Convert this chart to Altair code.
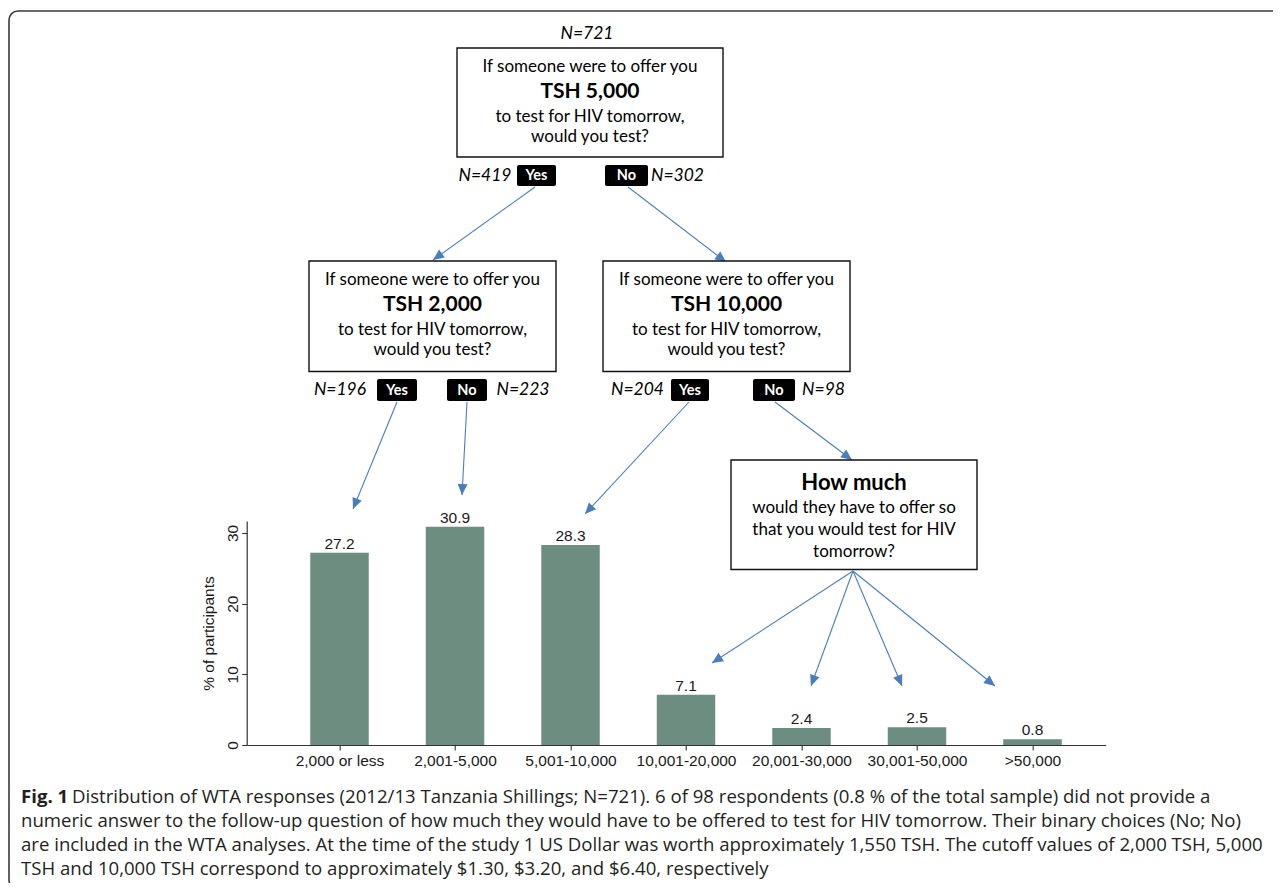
import json
import math
import altair as alt
import pandas as pd

# ---------------- data ----------------
categories = ["2,000 or less", "2,001-5,000", "5,001-10,000", "10,001-20,000",
              "20,001-30,000", "30,001-50,000", ">50,000"]
pct = [27.2, 30.9, 28.3, 7.1, 2.4, 2.5, 0.8]

# decision-tree texts
n_labels = ["N=721", "N=419", "N=302", "N=196", "N=223", "N=204", "N=98"]
chip_labels = ["Yes", "No", "Yes", "No", "Yes", "No"]
q_amounts = ["TSH 5,000", "TSH 2,000", "TSH 10,000"]
q_line1 = "If someone were to offer you"
q_line3 = "to test for HIV tomorrow,"
q_line4 = "would you test?"
hm_lines = ["How much", "would they have to offer so", "that you would test for HIV", "tomorrow?"]

caption_bold = "Fig. 1"
caption_lines = [
    "Distribution of WTA responses (2012/13 Tanzania Shillings; N=721). 6 of 98 respondents (0.8 % of the total sample) did not provide a",
    "numeric answer to the follow-up question of how much they would have to be offered to test for HIV tomorrow. Their binary choices (No; No)",
    "are included in the WTA analyses. At the time of the study 1 US Dollar was worth approximately 1,550 TSH. The cutoff values of 2,000 TSH, 5,000",
    "TSH and 10,000 TSH correspond to approximately $1.30, $3.20, and $6.40, respectively",
]

# ---------------- layout (page pixels -> data units) ----------------
X0, STEP = 339.5, 115.5
Y0, PPU = 745.0, 7.067
def X(px):
    return (px - X0) / STEP
def Y(py):
    return (Y0 - py) / PPU

PLOT_L, PLOT_R, PLOT_T, PLOT_B = 246.7, 1105.7, 521.0, 745.0
W = PLOT_R - PLOT_L
H = PLOT_B - PLOT_T
xscale = alt.Scale(domain=[X(PLOT_L), X(PLOT_R)], nice=False, zero=False)
yscale = alt.Scale(domain=[0, Y(PLOT_T)], nice=False, zero=False)

TREE_FONT = "Lato"
CAP_FONT = "Open Sans"
CHART_FONT = "Liberation Sans"
ARROW = "#4A7EBB"
BAR = "#6D8D81"
label_expr = json.dumps(categories) + "[datum.value]"

xaxis = alt.Axis(
    values=list(range(len(categories))), labelExpr=label_expr, title=None, grid=False,
    tickSize=5, labelPadding=3, labelFont=CHART_FONT, labelFontSize=15.5,
    labelColor="#1a1a1a", domainColor="#333333", tickColor="#333333",
    domainWidth=1.2, tickWidth=1.1, labelOverlap=False, labelFlush=False)
yaxis = alt.Axis(
    values=[0, 10, 20, 30], grid=False, tickSize=5, labelAngle=270,
    labelAlign="center", labelBaseline="alphabetic", labelPadding=4,
    labelFont=CHART_FONT, labelFontSize=15.5, labelColor="#1a1a1a",
    domainColor="#333333", tickColor="#333333", domainWidth=1.2, tickWidth=1.1,
    title="% of participants", titleFont=CHART_FONT, titleFontSize=15.5,
    titleFontWeight="normal", titleColor="#1a1a1a", titleAngle=270,
    titleAlign="center", titleBaseline="alphabetic", titleX=-33, titleY=H / 2)

def XE(f="x"):
    return alt.X(f"{f}:Q", scale=xscale, axis=xaxis)
def YE(f="y"):
    return alt.Y(f"{f}:Q", scale=yscale, axis=yaxis)

# ---------------- bars ----------------
bars_df = pd.DataFrame({"idx": list(range(len(categories))), "cat": categories, "pct": pct})
half = 0.2532

bars = alt.Chart(bars_df).transform_calculate(
    x0=f"datum.idx - {half}", x1=f"datum.idx + {half}"
).mark_bar(color=BAR).encode(
    x=XE("x0"), x2="x1:Q", y=YE("pct"), y2=alt.datum(0),
)

values = alt.Chart(bars_df).mark_text(
    baseline="alphabetic", dy=-4, font=CHART_FONT, fontSize=15.5, color="#1a1a1a"
).encode(
    x=XE("idx"), y=YE("pct"),
    text=alt.Text("pct:Q", format=".1f"),
)

# ---------------- frame ----------------
frame_df = pd.DataFrame({"x": [X(9)], "x2": [X(1300)], "y": [Y(11)], "y2": [Y(889)]})
frame = alt.Chart(frame_df).mark_rect(
    fill="transparent", stroke="#3a3a3a", strokeWidth=1.6, cornerRadius=9
).encode(x=XE(), x2="x2:Q", y=YE(), y2="y2:Q")

# ---------------- question boxes ----------------
box_px = [(457, 48, 723, 157), (309, 261, 556, 371.5), (603, 261, 850, 371.5), (731, 460, 977, 569.5)]
boxes_df = pd.DataFrame({
    "x": [X(b[0]) for b in box_px], "x2": [X(b[2]) for b in box_px],
    "y": [Y(b[1]) for b in box_px], "y2": [Y(b[3]) for b in box_px],
})
boxes = alt.Chart(boxes_df).mark_rect(
    fill="white", stroke="#111111", strokeWidth=1.4
).encode(x=XE(), x2="x2:Q", y=YE(), y2="y2:Q")

normal_rows, bold_rows = [], []
offs = [19, 44, 69, 89]
for i, amount in enumerate(q_amounts):
    l, t, r, b = box_px[i]
    cx = (l + r) / 2
    normal_rows.append((X(cx), Y(t + offs[0]), q_line1))
    bold_rows.append((X(cx), Y(t + offs[1]), amount))
    normal_rows.append((X(cx), Y(t + offs[2]), q_line3))
    normal_rows.append((X(cx), Y(t + offs[3]), q_line4))
l, t, r, b = box_px[3]
cx = (l + r) / 2
bold_rows.append((X(cx), Y(482.5), hm_lines[0]))
normal_rows.append((X(cx), Y(508), hm_lines[1]))
normal_rows.append((X(cx), Y(530), hm_lines[2]))
normal_rows.append((X(cx), Y(552), hm_lines[3]))

normal_df = pd.DataFrame(normal_rows, columns=["x", "y", "t"])
bold_df = pd.DataFrame(bold_rows[:3], columns=["x", "y", "t"])
hm_df = pd.DataFrame(bold_rows[3:], columns=["x", "y", "t"])

normal_txt = alt.Chart(normal_df).mark_text(
    font=TREE_FONT, fontSize=17, color="black", baseline="middle", align="center"
).encode(x=XE(), y=YE(), text="t:N")
bold_txt = alt.Chart(bold_df).mark_text(
    font=TREE_FONT, fontSize=21, fontWeight="bold", color="black", baseline="middle", align="center"
).encode(x=XE(), y=YE(), text="t:N")
hm_txt = alt.Chart(hm_df).mark_text(
    font=TREE_FONT, fontSize=22, fontWeight="bold", color="black", baseline="middle", align="center"
).encode(x=XE(), y=YE(), text="t:N")

# ---------------- N labels ----------------
n_px = [(587, 34), (485, 176), (677.5, 176), (340, 390), (523, 390), (637.5, 390), (823.5, 390)]
n_df = pd.DataFrame({"x": [X(p[0]) for p in n_px], "y": [Y(p[1]) for p in n_px], "t": n_labels})
n_txt = alt.Chart(n_df).mark_text(
    font=TREE_FONT, fontSize=17.5, fontStyle="italic", color="black", baseline="middle", align="center"
).encode(x=XE(), y=YE(), text="t:N")

# ---------------- Yes / No chips ----------------
chip_px = [(517, 165, 556, 186), (605, 165, 648, 186), (377, 379, 417, 401),
           (447, 379, 487, 401), (671, 379, 709, 401), (753, 379, 795, 401)]
chip_df = pd.DataFrame({
    "x": [X(c[0]) for c in chip_px], "x2": [X(c[2]) for c in chip_px],
    "y": [Y(c[1]) for c in chip_px], "y2": [Y(c[3]) for c in chip_px],
    "cx": [X((c[0] + c[2]) / 2) for c in chip_px], "cy": [Y((c[1] + c[3]) / 2 + 0.5) for c in chip_px],
    "t": chip_labels,
})
chips = alt.Chart(chip_df).mark_rect(fill="black", cornerRadius=2).encode(
    x=XE(), x2="x2:Q", y=YE(), y2="y2:Q")
chip_txt = alt.Chart(chip_df).mark_text(
    font=TREE_FONT, fontSize=14.5, fontWeight="bold", color="white", baseline="middle", align="center"
).encode(x=XE("cx"), y=YE("cy"), text="t:N")

# ---------------- arrows ----------------
arrow_px = [
    (535, 187, 433, 260), (628, 187, 726, 262),
    (397, 402, 353, 509), (467, 402, 462, 495),
    (689, 402, 585, 514), (775, 402, 852, 460),
    (853, 571, 712, 663), (853, 571, 811, 686),
    (853, 571, 902, 686), (853, 571, 995, 686),
]
arr_rows = []
for (x1, y1, x2, y2) in arrow_px:
    ang = math.degrees(math.atan2(x2 - x1, -(y2 - y1))) % 360
    arr_rows.append((X(x1), Y(y1), X(x2), Y(y2), ang))
arr_df = pd.DataFrame(arr_rows, columns=["x", "y", "x2", "y2", "ang"])
arrow_lines = alt.Chart(arr_df).mark_rule(color=ARROW, strokeWidth=1.1).encode(
    x=XE(), y=YE(), x2="x2:Q", y2="y2:Q")
arrow_heads = alt.Chart(arr_df).mark_point(
    shape="M0,0L-0.45,1L0.45,1Z", filled=True, size=484, color=ARROW, opacity=1, strokeWidth=0
).encode(x=XE("x2"), y=YE("y2"), angle=alt.Angle("ang:Q", scale=None))

# ---------------- caption ----------------
cap_y = [797, 821, 845, 869]
cap_df = pd.DataFrame({
    "x": [X(72)] + [X(21)] * 3,
    "y": [Y(v) for v in cap_y],
    "t": caption_lines,
})
cap_txt = alt.Chart(cap_df).mark_text(
    font=CAP_FONT, fontSize=18.6, color="#231f20", baseline="middle", align="left"
).encode(x=XE(), y=YE(), text="t:N")
capb_df = pd.DataFrame({"x": [X(21)], "y": [Y(cap_y[0])], "t": [caption_bold]})
capb_txt = alt.Chart(capb_df).mark_text(
    font=CAP_FONT, fontSize=18.6, fontWeight="bold", color="#231f20", baseline="middle", align="left"
).encode(x=XE(), y=YE(), text="t:N")

chart = alt.layer(
    frame, bars, values, arrow_lines, arrow_heads, boxes, normal_txt, bold_txt, hm_txt,
    n_txt, chips, chip_txt, cap_txt, capb_txt
).properties(
    width=W, height=H,
    autosize=alt.AutoSizeParams(type="none"),
    padding={"left": PLOT_L - 8, "top": PLOT_T - 8, "right": 1265 - (PLOT_L - 8) - W,
             "bottom": 875 - (PLOT_T - 8) - H},
    background="white",
).configure_view(stroke="transparent")

chart.save("out.html", embed_options={"renderer": "svg", "actions": False})
